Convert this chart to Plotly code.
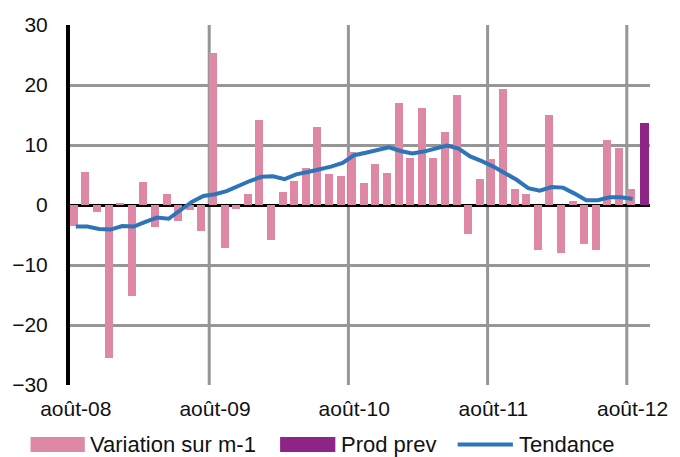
import plotly.graph_objects as go

# ---- data ----
months = [
    "août-08", "sept-08", "oct-08", "nov-08", "déc-08", "janv-09", "févr-09", "mars-09", "avr-09", "mai-09", "juin-09", "juil-09",
    "août-09", "sept-09", "oct-09", "nov-09", "déc-09", "janv-10", "févr-10", "mars-10", "avr-10", "mai-10", "juin-10", "juil-10",
    "août-10", "sept-10", "oct-10", "nov-10", "déc-10", "janv-11", "févr-11", "mars-11", "avr-11", "mai-11", "juin-11", "juil-11",
    "août-11", "sept-11", "oct-11", "nov-11", "déc-11", "janv-12", "févr-12", "mars-12", "avr-12", "mai-12", "juin-12", "juil-12",
    "août-12", "sept-12",
]
variation_months = months[:49]
variation = [
    -3.5, 5.5, -1.2, -25.5, 0.4, -15.2, 3.9, -3.7, 1.8, -2.6, -0.9, -4.3,
    25.4, -7.1, -0.6, 1.8, 14.1, -5.9, 2.2, 4.0, 6.2, 13.0, 5.2, 4.9,
    8.9, 3.7, 6.8, 5.4, 17.0, 7.8, 16.2, 7.8, 12.2, 18.3, -4.9, 4.4,
    7.6, 19.3, 2.6, 1.9, -7.5, 15.0, -8.0, 0.6, -6.5, -7.5, 10.9, 9.5,
    2.6,
]
prod_prev_months = ["sept-12"]
prod_prev = [13.7]
tendance_months = months[:49]
tendance = [
    -3.6, -3.6, -4.0, -4.1, -3.5, -3.6, -2.8, -2.1, -2.3, -1.0, 0.5, 1.5,
    1.8, 2.3, 3.2, 4.0, 4.7, 4.8, 4.3, 5.1, 5.5, 5.9, 6.4, 7.0,
    8.3, 8.7, 9.2, 9.6, 9.0, 8.6, 8.9, 9.4, 9.9, 9.4, 8.1, 7.3,
    6.4, 5.3, 4.2, 2.8, 2.4, 3.0, 2.9, 1.9, 0.8, 0.8, 1.3, 1.3,
    1.0,
]
tick_labels = ["août-08", "août-09", "août-10", "août-11", "août-12"]
y_ticks = [-30, -20, -10, 0, 10, 20, 30]

PINK = "#DE88A6"
PURPLE = "#8E2486"
BLUE = "#2E74B8"
GRID = "#969696"
FONT = "Liberation Sans, Arial, sans-serif"

fig = go.Figure()
fig.add_trace(go.Bar(x=variation_months, y=variation, name="Variation sur m-1",
                     marker=dict(color=PINK, line=dict(width=0)), width=0.7, offset=-0.52))
fig.add_trace(go.Bar(x=prod_prev_months, y=prod_prev, name="Prod prev",
                     marker=dict(color=PURPLE, line=dict(width=0)), width=0.8, offset=-0.4))
fig.add_trace(go.Scatter(x=tendance_months, y=tendance, name="Tendance", mode="lines",
                         line=dict(color=BLUE, width=4)))

# vertical gridlines at category boundaries
for xb in [11.5, 23.5, 35.5, 47.5]:
    fig.add_shape(type="line", xref="x", yref="paper", x0=xb, x1=xb, y0=0, y1=1,
                  line=dict(color=GRID, width=3), layer="below")

# custom legend (wide swatches like the original)
L, T, W, H = 67, 25, 588, 360
def px(x):
    return (x - L) / W
def py(y):
    return (T + H - y) / H

legend_items = [
    ("rect", PINK, 27, 82, "Variation sur m-1", 85),
    ("rect", PURPLE, 280, 336, "Prod prev", 340),
    ("line", BLUE, 460, 516, "Tendance", 520),
]
for kind, col, x0, x1, label, tx in legend_items:
    if kind == "rect":
        fig.add_shape(type="rect", xref="paper", yref="paper", x0=px(x0), x1=px(x1),
                      y0=py(452), y1=py(437), fillcolor=col, line=dict(width=0))
    else:
        fig.add_shape(type="line", xref="paper", yref="paper", x0=px(x0), x1=px(x1),
                      y0=py(444.5), y1=py(444.5), line=dict(color=col, width=4))
    fig.add_annotation(xref="paper", yref="paper", x=px(tx), y=py(444.5), text=label,
                       showarrow=False, xanchor="left", yanchor="middle",
                       font=dict(family=FONT, size=22, color="#111111"))

fig.update_layout(
    width=680, height=457,
    margin=dict(l=L, r=680 - L - W, t=T, b=457 - T - H),
    paper_bgcolor="white", plot_bgcolor="white",
    barmode="overlay", bargap=0,
    showlegend=False,
    font=dict(family=FONT, size=21, color="#111111"),
    xaxis=dict(type="category", categoryorder="array", categoryarray=months,
               range=[-0.5, 49.5], tickmode="array", tickvals=tick_labels, ticktext=tick_labels,
               showgrid=False, showline=False, zeroline=False, ticks="",
               tickangle=0, ticklabelstandoff=9,
               tickfont=dict(family=FONT, size=21, color="#111111")),
    yaxis=dict(range=[-30, 30], tickvals=y_ticks, showgrid=True, gridcolor=GRID, gridwidth=3,
               zeroline=True, zerolinecolor="#000000", zerolinewidth=3,
               showline=True, linecolor="#000000", linewidth=4, ticks="",
               ticklabelstandoff=14,
               tickfont=dict(family=FONT, size=21, color="#111111")),
)

fig.write_html("out.html")
